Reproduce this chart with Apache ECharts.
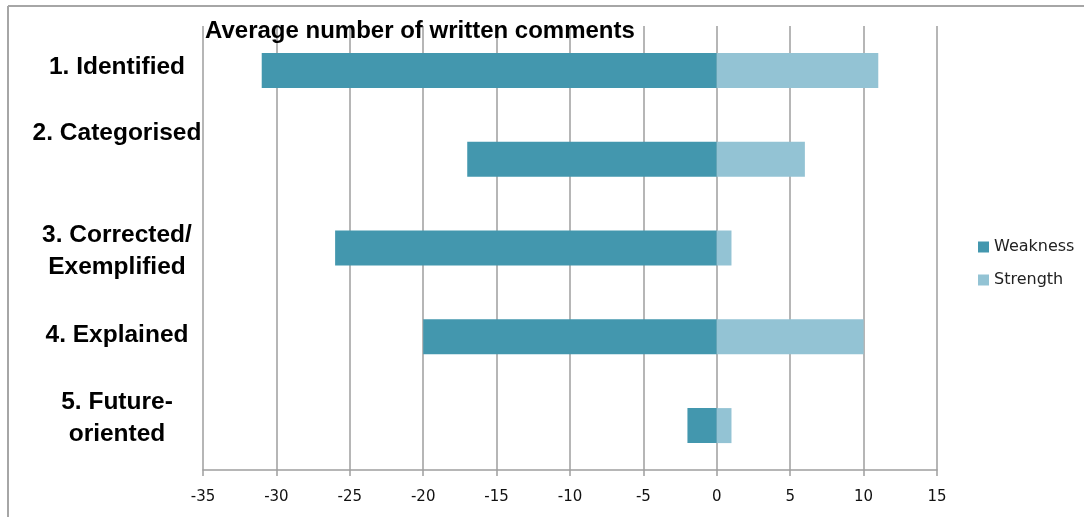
<!DOCTYPE html>
<html>
<head>
<meta charset="utf-8">
<script src="https://cdn.jsdelivr.net/npm/echarts@6/dist/echarts.min.js"></script>
<style>html,body{margin:0;padding:0;background:#fff;}#c{width:1084px;height:517px;}</style>
</head>
<body>
<div id="c"></div>
<script>
const categories = ['1. Identified', '2. Categorised', '3. Corrected/\nExemplified', '4. Explained', '5. Future-\noriented'];
const weakness = [-31, -17, -26, -20, -2];
const strength = [11, 6, 1, 10, 1];
const seriesNames = ['Weakness', 'Strength'];
const titleText = 'Average number of written comments';

// vertical nudge of each category label (px, negative = up), purely presentational
const labelShift = [-3, -26, 3, -2, -7];

const chart = echarts.init(document.getElementById('c'));
const FONT = 'Liberation Sans';
chart.setOption({
  backgroundColor: '#fff',
  animation: false,
  title: {
    text: titleText,
    left: 200, top: 14,
    textStyle: {fontFamily: FONT, fontWeight: 'bold', fontSize: 24, color: '#000'}
  },
  legend: {
    orient: 'vertical', left: 973, top: 234,
    itemWidth: 11, itemHeight: 11, itemGap: 17,
    icon: 'rect',
    textStyle: {fontFamily: 'DejaVu Sans', fontSize: 16, color: '#222'},
    data: seriesNames
  },
  graphic: [
    {type: 'line', shape: {x1: 8, y1: 6, x2: 1084, y2: 6}, style: {stroke: '#a6a6a6', lineWidth: 2}},
    {type: 'line', shape: {x1: 8, y1: 6, x2: 8, y2: 517}, style: {stroke: '#a6a6a6', lineWidth: 2}}
  ],
  grid: {left: 203, right: 147, top: 26, bottom: 47},
  xAxis: {
    type: 'value', min: -35, max: 15, interval: 5,
    axisLine: {show: true, lineStyle: {color: '#9e9e9e', width: 1.5}},
    axisTick: {show: true, length: 6, lineStyle: {color: '#9e9e9e', width: 1.5}},
    splitLine: {show: true, lineStyle: {color: '#9e9e9e', width: 1.5}},
    axisLabel: {fontFamily: 'DejaVu Sans', fontSize: 15, color: '#111', margin: 20}
  },
  yAxis: {
    type: 'category', inverse: true, data: categories,
    axisLine: {show: false}, axisTick: {show: false},
    axisLabel: {
      margin: 86, align: 'center', interval: 0,
      formatter: function (v, i) {
        const s = labelShift[i];
        const lines = v.split('\n').map(l => '{t|' + l + '}').join('\n');
        if (s < 0) return lines + '\n{s' + i + '| }';
        if (s > 0) return '{s' + i + '| }\n' + lines;
        return lines;
      },
      rich: (function () {
        const r = {t: {fontFamily: FONT, fontWeight: 'bold', fontSize: 24.5, color: '#000', lineHeight: 32, align: 'center'}};
        labelShift.forEach((s, i) => { r['s' + i] = {fontSize: 1, lineHeight: Math.abs(s) * 2}; });
        return r;
      })()
    }
  },
  series: [
    {name: seriesNames[0], type: 'bar', data: weakness, barWidth: 35, barGap: '-100%',
     itemStyle: {color: '#4397ae'}},
    {name: seriesNames[1], type: 'bar', data: strength, barWidth: 35,
     itemStyle: {color: '#93c3d4'}}
  ]
});
</script>
</body>
</html>
